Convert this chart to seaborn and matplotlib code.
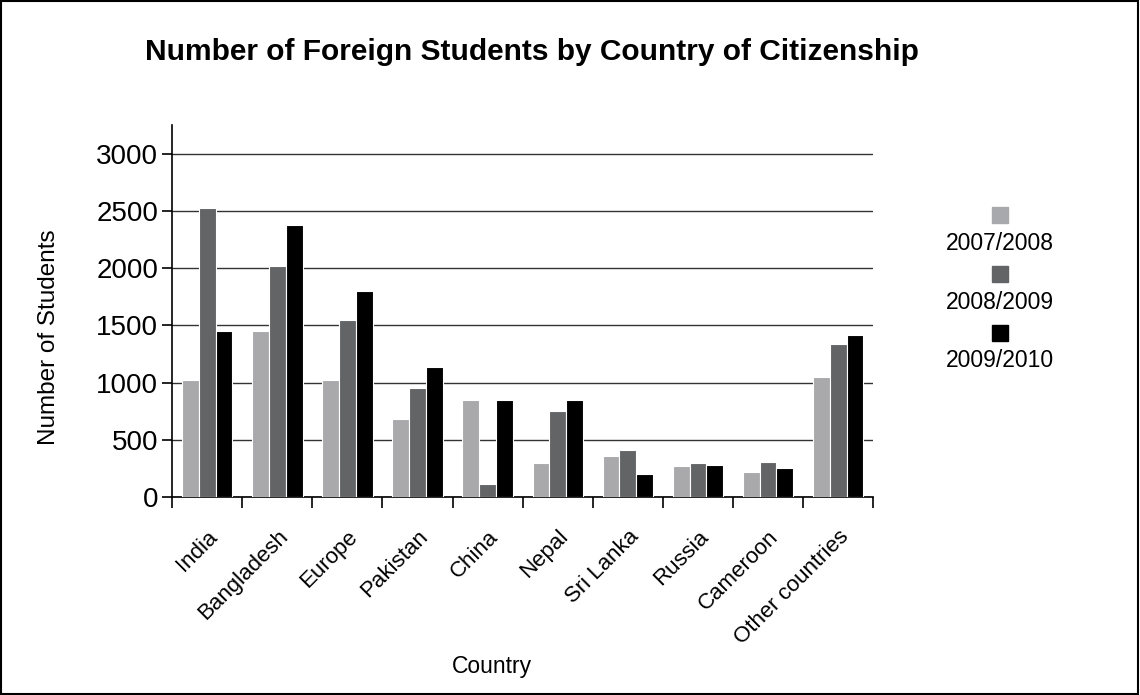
import pandas as pd
import matplotlib.pyplot as plt
import seaborn as sns
from matplotlib.patches import Rectangle

# donnees
countries = ['India', 'Bangladesh', 'Europe', 'Pakistan', 'China', 'Nepal',
             'Sri Lanka', 'Russia', 'Cameroon', 'Other countries']
years = ['2007/2008', '2008/2009', '2009/2010']
v_2007 = [1020, 1446, 1021, 683, 851, 298, 360, 268, 214, 1048]
v_2008 = [2528, 2020, 1544, 952, 115, 750, 406, 298, 306, 1337]
v_2009 = [1446, 2374, 1800, 1139, 851, 851, 199, 283, 253, 1419]
colors = ['#a8a9ad', '#636466', '#000000']

df = pd.DataFrame({'Country': countries * 3,
                   'Year': [y for y in years for _ in countries],
                   'Students': v_2007 + v_2008 + v_2009})

sns.set_style('white')
plt.rcParams['font.family'] = ['Liberation Sans', 'DejaVu Sans']
plt.rcParams['text.color'] = 'black'
plt.rcParams['axes.labelcolor'] = 'black'
plt.rcParams['xtick.color'] = 'black'
plt.rcParams['ytick.color'] = 'black'

fig = plt.figure(figsize=(11.4, 6.95), dpi=100)
ax = fig.add_axes([0.151, 0.285, 0.615, 0.535])

sns.barplot(data=df, x='Country', y='Students', hue='Year', palette=colors,
            width=0.72, edgecolor='white', linewidth=0.8, legend=False, ax=ax,
            zorder=3)

ax.set_ylim(0, 3250)
ax.set_xlim(-0.5, len(countries) - 0.5)
ax.set_yticks([0, 500, 1000, 1500, 2000, 2500, 3000])
ax.yaxis.grid(True, color='#333333', linewidth=1.0, zorder=0)
ax.set_axisbelow(True)
for s in ['top', 'right']:
    ax.spines[s].set_visible(False)
for s in ['left', 'bottom']:
    ax.spines[s].set_color('black')
    ax.spines[s].set_linewidth(1.2)

ax.tick_params(axis='y', length=7, width=1.2, labelsize=20, left=True, pad=3)
ax.set_xticks(range(len(countries)))
ax.set_xticklabels(countries, rotation=45, ha='right', rotation_mode='anchor', fontsize=16)
ax.tick_params(axis='x', which='major', length=0, pad=21)
ax.set_xticks([i - 0.5 for i in range(len(countries) + 1)], minor=True)
ax.tick_params(axis='x', which='minor', length=8, width=1.2, bottom=True)

ax.set_xlabel('Country', fontsize=16.5)
ax.set_ylabel('Number of Students', fontsize=17.5)
ax.xaxis.set_label_coords(0.456, -0.425)
ax.yaxis.set_label_coords(-0.16, 0.43)
fig.text(0.467, 0.925, 'Number of Foreign Students by Country of Citizenship',
         ha='center', va='center', fontsize=21.5, fontweight='bold')

# legende : carre au-dessus du texte
sq_w = 16 / 1140
sq_h = 16 / 695
for i, (yr, c) in enumerate(zip(years, colors)):
    yc = 1 - (215 + i * 59) / 695
    fig.patches.append(Rectangle((1000 / 1140 - sq_w / 2, yc - sq_h / 2), sq_w, sq_h,
                                 transform=fig.transFigure, color=c))
    fig.text(1000 / 1140, yc - 28 / 695, yr, ha='center', va='center', fontsize=16.5)

# cadre autour de la figure
fig.patches.append(Rectangle((0.001, 0.001), 0.997, 0.997, transform=fig.transFigure,
                             fill=False, edgecolor='black', linewidth=1.5))

plt.savefig('out.png', dpi=100)
